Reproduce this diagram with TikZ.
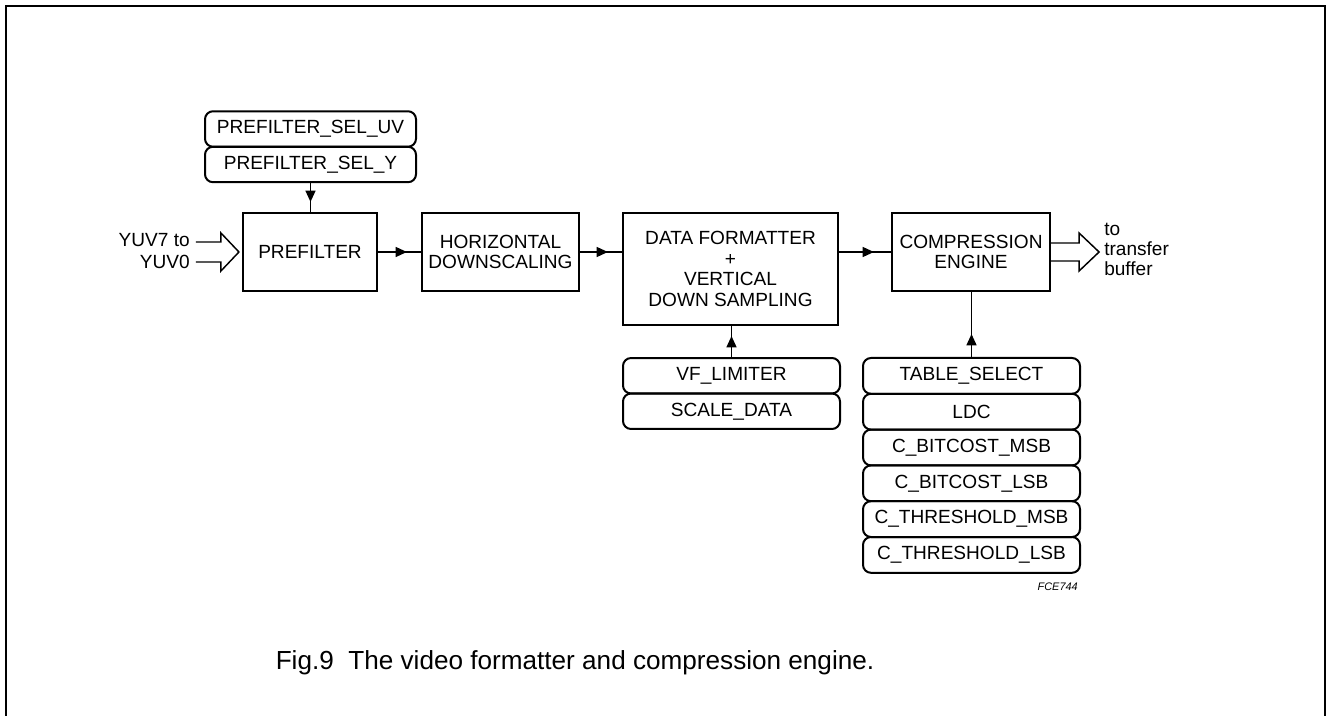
\documentclass[tikz,border=0pt]{standalone}
\usepackage{fontspec}
\setmainfont{Liberation Sans}
\usetikzlibrary{arrows.meta,decorations.markings,calc}
\begin{document}
\begin{tikzpicture}[x=0.75pt,y=-0.75pt,
  blk/.style={draw,line width=1.6pt,rectangle,inner sep=0pt,align=center,font=\fontsize{14.3}{15.4}\selectfont},
  reg/.style={draw,line width=1.5pt,rounded corners=6pt,inner sep=0pt,minimum width=162.75pt,font=\fontsize{14.3}{15.4}\selectfont},
  conn/.style={line width=1.1pt},
  tipat/.style={postaction={decorate},decoration={markings,mark=at position #1 with {\arrow{Triangle[length=8.5pt,width=7.5pt]}}}},
  hollow/.style={line width=1.1pt,line join=miter},
  lbl/.style={font=\fontsize{14.3}{16.5}\selectfont,inner sep=0pt}
]
\useasboundingbox (0,0) rectangle (1327,716);
\draw[line width=1.6pt] (6,716) -- (6,6) -- (1325,6) -- (1325,716);

% main blocks
\node[blk,minimum width=100.5pt,minimum height=58.5pt] (pf) at (310,252) {PREFILTER};
\node[blk,minimum width=117.75pt,minimum height=58.5pt] (hd) at (500.5,252) {HORIZONTAL\\DOWNSCALING};
\node[blk,minimum width=161.25pt,minimum height=84pt] (df) at (730.5,269) {DATA FORMATTER\\+\\VERTICAL\\DOWN SAMPLING};
\node[blk,minimum width=118.5pt,minimum height=58.5pt] (ce) at (971,252) {COMPRESSION\\ENGINE};

% register stacks
\node[reg,minimum width=158.25pt,minimum height=26.6pt] (suv) at (310.5,129) {PREFILTER\_SEL\_UV};
\node[reg,minimum width=158.25pt,minimum height=26.6pt] (sy) at (310.5,164.5) {PREFILTER\_SEL\_Y};

\node[reg,minimum height=26.6pt] (vf) at (731.5,375.75) {VF\_LIMITER};
\node[reg,minimum height=26.6pt] (sd) at (731.5,411.25) {SCALE\_DATA};

\node[reg,minimum height=26.85pt] (ts) at (971.5,375.9) {TABLE\_SELECT};
\node[reg,minimum height=26.85pt] (ldc) at (971.5,411.7) {LDC};
\node[reg,minimum height=26.85pt] (bm) at (971.5,447.5) {C\_BITCOST\_MSB};
\node[reg,minimum height=26.85pt] (bl) at (971.5,483.3) {C\_BITCOST\_LSB};
\node[reg,minimum height=26.85pt] (tm) at (971.5,519.1) {C\_THRESHOLD\_MSB};
\node[reg,minimum height=26.85pt] (tl) at (971.5,554.9) {C\_THRESHOLD\_LSB};

% connectors
\draw[conn,tipat=-7.5pt] (sy.south) -- (sy.south |- pf.north);
\draw[conn,tipat=-10.5pt] (pf.east) -- (hd.west);
\draw[conn,tipat=-10.5pt] (hd.east) -- (df.west |- hd.east);
\draw[conn,tipat=-12.75pt] (df.east |- ce.west) -- (ce.west);
\draw[conn,tipat=15.75pt] (vf.north) -- (vf.north |- df.south);
\draw[conn,tipat=17.25pt] (ts.north) -- (ts.north |- ce.south);

% hollow bus arrows
\draw[hollow] ($(pf.west)+(-46,-10)$) -- ++(25,0) -- ++(0,-9) -- ($(pf.west)+(-3,0)$)
  -- ($(pf.west)+(-21,19)$) -- ++(0,-9) -- ++(-25,0);
\draw[hollow] ($(ce.east)+(0,-9)$) -- ++(28,0) -- ++(0,-10) -- ($(ce.east)+(48,0)$)
  -- ($(ce.east)+(28,19)$) -- ++(0,-10) -- ++(-28,0);

% labels
\node[lbl,align=right,anchor=east] (yuv) at (190,251) {YUV7 to\\YUV0};
\node[lbl,align=left,anchor=west,font=\fontsize{14.3}{15}\selectfont] (tb) at (1104,249) {to\\transfer\\buffer};
\node[anchor=east,inner sep=0pt,font=\fontsize{8.2}{9}\selectfont\itshape] (code) at (1078,587) {FCE744};
\node[inner sep=0pt,font=\fontsize{19.6}{21}\selectfont] (cap) at (575,663) {Fig.9\ \ The video formatter and compression engine.};
\end{tikzpicture}
\end{document}
